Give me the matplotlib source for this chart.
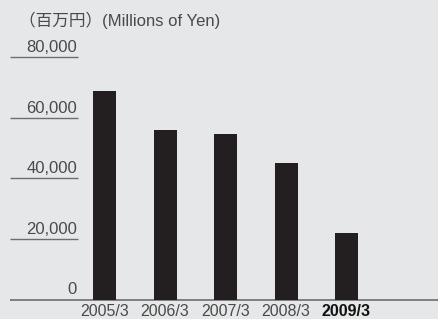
import matplotlib
matplotlib.use('Agg')
import matplotlib.pyplot as plt
import matplotlib.transforms as mtransforms

# Data (millions of yen)
periods = ['2005/3', '2006/3', '2007/3', '2008/3', '2009/3']
values = [68900, 56000, 54700, 45100, 22000]
yticks = [0, 20000, 40000, 60000, 80000]
ytick_labels = ['0', '20,000', '40,000', '60,000', '80,000']
unit_label = '（百万円）(Millions of Yen)'

W, H = 438, 319
BG = '#e6e7e8'
BAR = '#231f20'
TXT = '#4a4a4a'
FONTS = ['Liberation Sans', 'Noto Sans CJK JP', 'DejaVu Sans']

fig = plt.figure(figsize=(W / 100, H / 100), dpi=100, facecolor=BG)

# axes: bottom at the zero line (y=299.5 px), top at the 80,000 line (y=57 px)
base_px, top_px = 299.5, 57.0
ax = fig.add_axes([0, (H - base_px) / H, 1, (base_px - top_px) / H])
ax.set_facecolor(BG)
ax.set_ylim(0, 80000)
step = 60.5
first = 104.5
ax.set_xlim(-first / step, (W - first) / step)
for s in ax.spines.values():
    s.set_visible(False)
ax.set_xticks([])
ax.set_yticks([])

x = list(range(len(periods)))
ax.bar(x, values, width=23 / step, color=BAR, zorder=3)

# y gridline stubs + labels
trans = mtransforms.blended_transform_factory(ax.transAxes, ax.transData)
x0, x1 = 10 / W, 78 / W
ax.hlines(yticks[1:], x0, x1, transform=trans, color='#6d6d6d', lw=1.0,
          clip_on=False)
ax.hlines(0, x0, 1, transform=trans, color='#6d6d6d', lw=1.2, clip_on=False)
for v, lab in zip(yticks, ytick_labels):
    ax.text(77 / W, v + 700, lab, transform=trans, ha='right', va='bottom',
            fontsize=12, color=TXT, family=FONTS, clip_on=False)

# x labels
for i, p in enumerate(periods):
    last = i == len(periods) - 1
    ax.text(i, -3900, p, ha='center', va='center', fontsize=11.5,
            color='#111111' if last else TXT,
            fontweight='bold' if last else 'normal', family=FONTS,
            clip_on=False)

fig.text(19 / W, 1 - 20 / H, unit_label, ha='left', va='center',
         fontsize=12, color=TXT, family=FONTS)

fig.savefig('out.png', dpi=100, facecolor=BG)
